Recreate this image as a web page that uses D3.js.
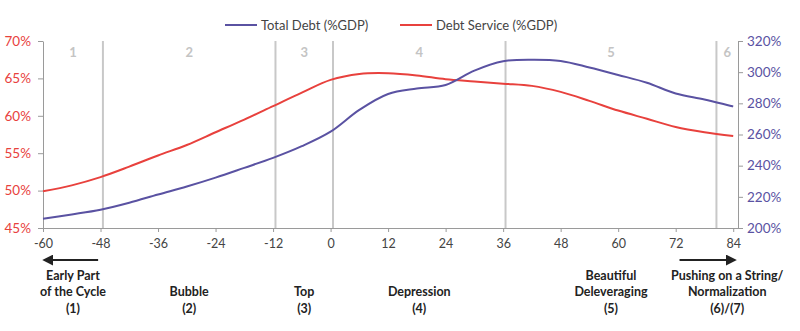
<!DOCTYPE html>
<html>
<head>
<meta charset="utf-8">
<script src="https://cdn.jsdelivr.net/npm/d3@7"></script>
<style>
  html, body { margin: 0; padding: 0; background: #fff; }
  svg { display: block; font-family: Lato, "Open Sans", sans-serif; }
</style>
</head>
<body>
<svg id="chart" width="800" height="331"></svg>
<script>
// Months relative to the top of the cycle
const months = [-60, -54, -48, -42, -36, -30, -24, -18, -12, -6, 0, 6, 12, 18, 24, 30, 36, 42, 48, 54, 60, 66, 72, 78, 84];
// Total debt, % of GDP (right axis)
const totalDebt = [206, 208.7, 211.7, 216.2, 221.5, 226.6, 232.3, 238.6, 245, 252.5, 261.8, 275.8, 286, 289.5, 291.8, 301, 307, 308, 307.2, 303, 298.2, 293.2, 286.3, 282.5, 278];
// Debt service, % of GDP (left axis)
const debtService = [49.9, 50.7, 51.8, 53.2, 54.7, 56.1, 57.8, 59.5, 61.3, 63.1, 64.8, 65.6, 65.7, 65.4, 64.9, 64.6, 64.3, 64.0, 63.2, 62.0, 60.7, 59.6, 58.5, 57.8, 57.3];

const xTicks = [-60, -48, -36, -24, -12, 0, 12, 24, 36, 48, 60, 72, 84];
const leftTicks = [45, 50, 55, 60, 65, 70];
const rightTicks = [200, 220, 240, 260, 280, 300, 320];

// Phase boundaries (months) and labels
const phaseBounds = [-60, -47.5, -11.5, 0.5, 36.5, 80.5, 85];
const phaseNumbers = ["1", "2", "3", "4", "5", "6"];
const phaseNames = [
  ["Early Part", "of the Cycle", "(1)"],
  ["Bubble", "(2)"],
  ["Top", "(3)"],
  ["Depression", "(4)"],
  ["Beautiful", "Deleveraging", "(5)"],
  ["Pushing on a String/", "Normalization", "(6)/(7)"]
];

const seriesNames = ["Total Debt (%GDP)", "Debt Service (%GDP)"];
const PURPLE = "#5a52a2";
const RED = "#e8413d";

const svg = d3.select("#chart");
const m = { left: 43, right: 738, top: 41, bottom: 228 };

const x = d3.scaleLinear().domain([-60, 85]).range([m.left, m.right]);
const yL = d3.scaleLinear().domain([45, 70]).range([m.bottom, m.top]);
const yR = d3.scaleLinear().domain([200, 320]).range([m.bottom, m.top]);

// Phase divider lines
svg.append("g").selectAll("line")
  .data(phaseBounds.slice(1, -1))
  .join("line")
  .attr("x1", d => x(d)).attr("x2", d => x(d))
  .attr("y1", m.top).attr("y2", m.bottom)
  .attr("stroke", "#c8c8c8").attr("stroke-width", 2);

// Phase numbers
svg.append("g").selectAll("text")
  .data(phaseNumbers)
  .join("text")
  .attr("x", (d, i) => x((phaseBounds[i] + phaseBounds[i + 1]) / 2))
  .attr("y", 57)
  .attr("text-anchor", "middle")
  .attr("font-size", 13)
  .attr("font-weight", 700)
  .attr("fill", "#c4c4c4")
  .text(d => d);

// Axes
const axisColor = "#9a9a9a";
const bottomAxis = svg.append("g")
  .attr("transform", `translate(0,${m.bottom})`)
  .call(d3.axisBottom(x).tickValues(xTicks).tickFormat(d => String(d))
    .tickSize(4).tickSizeOuter(0).tickPadding(7));
bottomAxis.selectAll("text").attr("font-size", 12.5).attr("fill", "#444").attr("font-family", "Lato, sans-serif");

const leftAxis = svg.append("g")
  .attr("transform", `translate(${m.left},0)`)
  .call(d3.axisLeft(yL).tickValues(leftTicks).tickFormat(d => d + "%").tickSize(5).tickSizeOuter(0).tickPadding(7));
leftAxis.selectAll("text").attr("font-size", 13.5).attr("fill", RED).attr("font-family", "Lato, sans-serif");

const rightAxis = svg.append("g")
  .attr("transform", `translate(${m.right},0)`)
  .call(d3.axisRight(yR).tickValues(rightTicks).tickFormat(d => d + "%").tickSize(5).tickSizeOuter(0).tickPadding(4));
rightAxis.selectAll("text").attr("font-size", 13.5).attr("fill", PURPLE).attr("font-family", "Lato, sans-serif");

svg.selectAll(".domain, .tick line").attr("stroke", axisColor);

// Series lines
const curve = d3.curveCatmullRom.alpha(0.5);
const lineL = d3.line().x((d, i) => x(months[i])).y(d => yL(d)).curve(curve);
const lineR = d3.line().x((d, i) => x(months[i])).y(d => yR(d)).curve(curve);

svg.append("path").datum(debtService)
  .attr("d", lineL).attr("fill", "none").attr("stroke", RED).attr("stroke-width", 2);
svg.append("path").datum(totalDebt)
  .attr("d", lineR).attr("fill", "none").attr("stroke", PURPLE).attr("stroke-width", 2);

// Legend
const legend = svg.append("g").attr("font-size", 13).attr("fill", "#444");
const legendX = [225, 400];
[PURPLE, RED].forEach((c, i) => {
  legend.append("line")
    .attr("x1", legendX[i]).attr("x2", legendX[i] + 32)
    .attr("y1", 25).attr("y2", 25)
    .attr("stroke", c).attr("stroke-width", 2);
  legend.append("text")
    .attr("x", legendX[i] + 36).attr("y", 29.5)
    .attr("fill", "#444")
    .text(seriesNames[i]);
});

// Arrows below the axis
const defs = svg.append("defs");
defs.append("marker")
  .attr("id", "arrowhead")
  .attr("viewBox", "0 0 10 10")
  .attr("refX", 8).attr("refY", 5)
  .attr("markerWidth", 5).attr("markerHeight", 5)
  .attr("markerUnits", "strokeWidth")
  .attr("orient", "auto")
  .append("path").attr("d", "M0,0 L10,5 L0,10 z").attr("fill", "#222");

svg.append("line")
  .attr("x1", x(-48.5)).attr("x2", x(-59.7))
  .attr("y1", 260).attr("y2", 260)
  .attr("stroke", "#222").attr("stroke-width", 2.2)
  .attr("marker-end", "url(#arrowhead)");
svg.append("line")
  .attr("x1", x(72.8)).attr("x2", x(84.3))
  .attr("y1", 260).attr("y2", 260)
  .attr("stroke", "#222").attr("stroke-width", 2.2)
  .attr("marker-end", "url(#arrowhead)");

// Phase names, bottom-aligned
const names = svg.append("g")
  .attr("font-size", 12.5).attr("font-weight", 700).attr("fill", "#222")
  .attr("text-anchor", "middle");
phaseNames.forEach((lines, i) => {
  const cx = x((phaseBounds[i] + phaseBounds[i + 1]) / 2);
  const n = lines.length;
  lines.forEach((t, j) => {
    names.append("text")
      .attr("x", cx)
      .attr("y", 313 - (n - 1 - j) * 16.7)
      .text(t);
  });
});
</script>
</body>
</html>
